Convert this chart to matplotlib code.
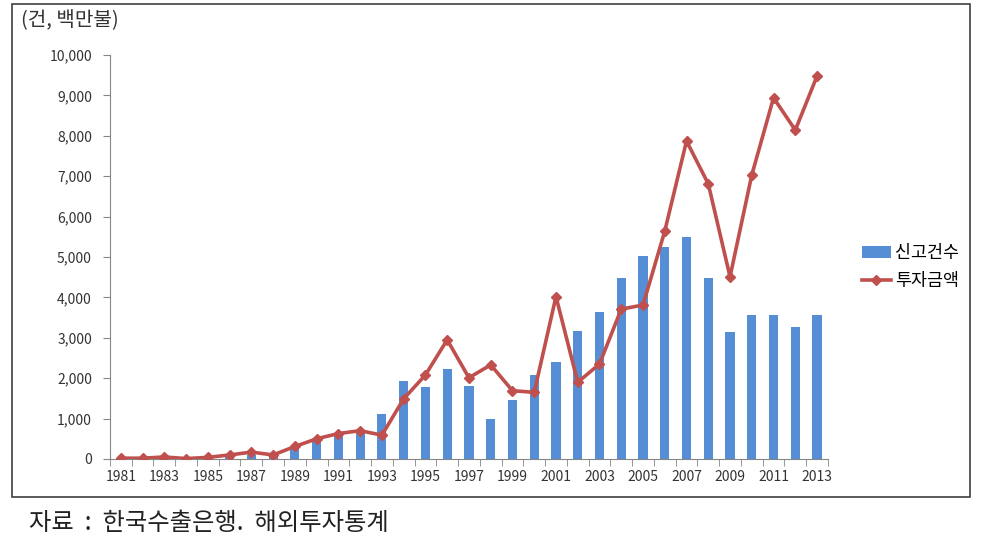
import numpy as np
import matplotlib.pyplot as plt
from matplotlib.patches import Rectangle

plt.rcParams['font.family'] = ['Noto Sans CJK KR', 'DejaVu Sans']

years = list(range(1981, 2014))
# 신고건수 (건)
counts = [10, 10, 20, 10, 20, 60, 110, 80, 270, 480, 580, 640, 1110,
          1930, 1770, 2220, 1810, 990, 1460, 2070, 2410, 3180, 3630,
          4480, 5020, 5240, 5490, 4480, 3140, 3570, 3570, 3270, 3570]
# 투자금액 (백만불)
amounts = [20, 20, 50, 10, 40, 100, 170, 100, 310, 500, 630, 700, 590,
           1490, 2080, 2950, 2010, 2330, 1690, 1650, 4020, 1900, 2350,
           3710, 3810, 5640, 7870, 6810, 4510, 7030, 8940, 8140, 9480]

bar_color = '#558ED5'
line_color = '#C0504D'
axis_color = '#868686'

fig = plt.figure(figsize=(10.06, 5.52), dpi=100)

# outer frame
fig.patches.append(Rectangle((0.012, 0.0996), 0.952, 0.8932, transform=fig.transFigure,
                             fill=False, edgecolor='#404040', linewidth=1.2))

ax = fig.add_axes([0.1093, 0.1685, 0.7137, 0.7319])
x = np.arange(len(years))
bars = ax.bar(x, counts, width=0.42, color=bar_color, label='신고건수', zorder=2)
line, = ax.plot(x, amounts, color=line_color, linewidth=2.6, marker='D', markersize=5,
                label='투자금액', zorder=3)

ax.set_xlim(-0.5, len(years) - 0.5)
ax.set_ylim(0, 10000)
ax.set_yticks(range(0, 10001, 1000))
ax.set_yticklabels([f'{v:,}' for v in range(0, 10001, 1000)], fontsize=10, color='#333333')

ax.set_xticks(x[::2])
ax.set_xticklabels([str(y) for y in years[::2]], fontsize=10, color='#333333')
ax.set_xticks(np.arange(-0.5, len(years), 1), minor=True)
ax.tick_params(axis='x', which='major', length=0, pad=8)
ax.tick_params(axis='x', which='minor', length=5, color=axis_color)
ax.tick_params(axis='y', length=5, color=axis_color, pad=8)

for s in ['top', 'right']:
    ax.spines[s].set_visible(False)
for s in ['left', 'bottom']:
    ax.spines[s].set_color(axis_color)

ax.legend([bars, line], ['신고건수', '투자금액'], loc='center left',
          bbox_to_anchor=(1.025, 0.475), frameon=False,
          fontsize=12.5, handlelength=1.7, handletextpad=0.25, labelspacing=0.6)

fig.text(0.021, 0.963, '(건, 백만불)', fontsize=14.5, color='#333333', va='center')
fig.text(0.029, 0.052, '자료  :  한국수출은행.  해외투자통계', fontsize=17.5, color='#222222', va='center')

fig.savefig('out.png', dpi=100)
